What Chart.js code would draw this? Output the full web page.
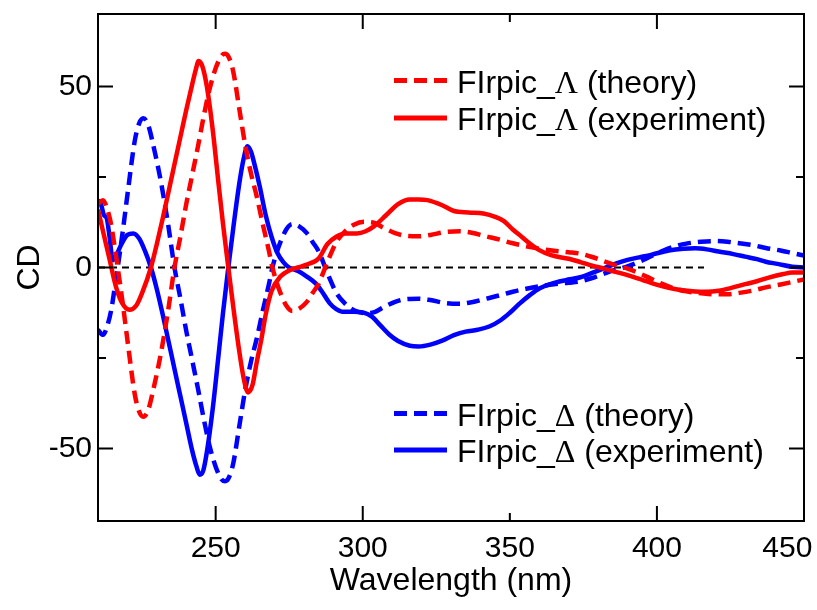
<!DOCTYPE html>
<html>
<head>
<meta charset="utf-8">
<script src="https://cdn.jsdelivr.net/npm/chart.js@4.4.1/dist/chart.umd.min.js"></script>
<style>
  html, body { margin: 0; padding: 0; background: #fff; }
  canvas { display: block; }
</style>
</head>
<body>
<canvas id="cd_chart" width="817" height="610"></canvas>
<script>
// ---- Data (wavelength in nm, CD in arbitrary units) ----

// theory curves (both enantiomers share the same wavelength grid)
const wlTheory = [210, 211.7, 213, 214.5, 215.6, 216.7, 218.5, 220.2, 222.5, 224, 225.4, 227, 229, 231.5, 234, 236,
  238, 240, 242, 244, 246, 248, 250, 252, 253.2, 254.5, 256, 258, 260, 262, 264, 266, 268, 269.3, 270.5, 272, 274,
  276, 278.5, 281, 283, 285, 287, 289, 291, 294, 297, 300.5, 304, 307, 311, 315, 319, 323, 328, 333, 337, 342, 347,
  351, 356, 360, 365, 370, 374, 378, 382, 386, 390, 394, 398, 402, 406, 410, 415, 420, 424, 428, 433, 437, 442, 446, 450];

const cdLambdaTheory = [17.5, 18.6, 16.5, 11.7, 6, 0, -10.5, -21.3, -35, -39.8, -41.2, -39.5, -33, -23.2, -11, 0,
  8.5, 17.5, 25.5, 33.5, 42, 49.5, 55, 58.5, 59, 58, 54, 44, 34, 26, 19.5, 12, 5, 0, -3.5, -7, -10.5,
  -12, -11.3, -9.5, -7, -4.5, -0.5, 3.5, 7, 10, 11.8, 12.6, 12.3, 11, 9.5, 8.7, 8.6, 9, 9.8, 10, 9.6, 8.6, 7.6,
  6.7, 5.8, 5.2, 4.6, 4.2, 3.8, 2.9, 1.7, 0.6, -0.3, -1.6, -3.1, -4.6, -5.8, -6.6, -7.1, -7.4, -7.4, -7, -6.3, -5.5, -4.7, -4, -3.3];

const cdDeltaTheory = [-17.2, -18.6, -16.5, -11.7, -6, 0, 10.5, 21.3, 35, 39.8, 41.2, 39.5, 33, 23.2, 11, 0,
  -8.5, -17.5, -25.5, -33.5, -42, -49.5, -55, -58.5, -59, -58, -54, -44, -34, -26, -19.5, -12, -5, 0, 3.5, 7, 10.5,
  12, 11.3, 9.5, 7, 4.5, 0.5, -3.5, -7, -10, -11.8, -12.6, -12.3, -11, -9.5, -8.7, -8.6, -9, -9.8, -10, -9.6, -8.6, -7.6,
  -6.7, -5.8, -5.2, -4.6, -4.2, -3.8, -2.9, -1.7, -0.6, 0.3, 1.6, 3.1, 4.6, 5.8, 6.6, 7.1, 7.3, 7.1, 6.7, 6.1, 5.4, 4.7, 4.0, 3.3];

// experiment, Lambda
const wlLambdaExp = [210, 212, 214, 216, 218, 220.7, 223, 225, 228, 230, 232, 234, 236, 238, 240, 242, 243.2, 244.2,
  245.5, 247, 249, 251, 252.5, 254.3, 256, 258, 259.5, 261, 262.5, 264, 265.5, 267, 269, 272, 275, 278, 281, 285,
  288, 291, 294, 298, 301, 304, 308, 312, 316, 319, 322, 327, 331, 336, 341, 345, 348, 351, 354, 357, 360, 364,
  370, 374, 378, 382, 386, 390, 395, 399, 404, 408, 413, 417, 421, 425, 430, 434, 438, 443, 446, 450];

const cdLambdaExp = [16, 9, 2, -5, -9.5, -11.7, -10.5, -7, 0, 6.5, 13.5, 21, 28.5, 36, 43.5, 50.5, 54.5, 57,
  55.5, 50, 38, 23, 12, 0, -11, -23, -30.5, -34.5, -32.5, -26, -20, -13, -6.5, -2.5, -0.8, 0, 0.8, 2.5,
  6.5, 8.5, 9.4, 9.4, 10, 11.5, 14.5, 17.5, 18.8, 18.8, 18.6, 17.2, 15.6, 15.2, 14.9, 14, 12.8, 10.5, 8.5, 6.5, 4.8, 3.4,
  2.4, 1.5, 0.5, -0.3, -1.2, -2.1, -3.4, -4.5, -5.6, -6.2, -6.6, -6.7, -6.4, -5.7, -4.6, -3.8, -2.8, -1.8, -1.4, -1.4];

// experiment, Delta
const wlDeltaExp = [210, 211, 212, 213, 214, 215, 216, 218, 220, 222, 224, 226, 228, 230, 232, 234, 236, 238, 240,
  242, 243.5, 244.6, 245.8, 247, 249, 251, 252.5, 254.3, 256, 258, 259.5, 260.8, 262, 263.5, 265, 267, 269, 271,
  273, 275, 278, 281, 284, 286, 288.8, 291, 293, 297, 300, 303, 306, 309, 312, 316, 319, 323, 327, 331, 335, 339,
  343, 347, 350, 353, 357, 360, 364, 369, 374, 378, 382, 386, 390, 394, 398, 404, 409, 413, 417, 421, 426, 430,
  434, 437, 441, 446, 450];

const cdDeltaExp = [18.6, 17.5, 14.5, 13.5, 8, 2, 3, 6.5, 9, 9.4, 8, 4.5, 0, -6, -13, -20.5, -28, -35.5, -43,
  -50.5, -55, -57.2, -56, -51, -39, -24, -12.5, 0, 11, 23, 30, 33.5, 32, 27.5, 22.3, 14.5, 8.5, 4,
  1.5, 0, -1, -2.5, -4.4, -6.5, -9.9, -11.5, -12.2, -12.2, -12.4, -13.5, -16, -18.5, -20.3, -21.6, -21.8, -21.3, -20.2, -18.7, -17.7, -17.2,
  -16.3, -14.5, -12.5, -10.2, -7.5, -5.8, -4.5, -3.5, -2.7, -1.5, -0.2, 1.1, 2.1, 2.8, 3.5, 4.7, 5.2, 5.3, 5, 4.4, 3.7, 3,
  2.3, 1.6, 1, 0.2, 0];

// dashed zero reference line
const wlZero = [210, 416];
const cdZero = [0, 0];

// axes
const xTickLabels = [250, 300, 350, 400, 450];
const xTickLong = [250, 300, 400];
const xTickShort = [350];
const yTickLabels = [-50, 0, 50];
const yTickLong = [-50, 0, 50];
const yTickShort = [-25, 25];

const seriesLabels = ['FIrpic_Λ (theory)', 'FIrpic_Λ (experiment)', 'FIrpic_Δ (theory)', 'FIrpic_Δ (experiment)'];

// ---- helpers ----
const pts = (xs, ys) => xs.map((x, i) => ({ x: x, y: ys[i] }));
const SANS = "'Liberation Sans', Arial, sans-serif";
const SERIF = "'Liberation Serif', 'Times New Roman', serif";
const RED = '#ff0000', BLUE = '#0000ff';
const DASH = [13, 7];

function curve(label, xs, ys, color, dashed) {
  return {
    label: label,
    data: pts(xs, ys),
    borderColor: color,
    borderWidth: 4.5,
    borderDash: dashed ? DASH : [],
    pointRadius: 0,
    fill: false,
    cubicInterpolationMode: 'monotone'
  };
}

// box frame + inward ticks on all four sides
const frameTicks = {
  id: 'frameTicks',
  afterDatasetsDraw(chart) {
    const { ctx, chartArea: a, scales: { x, y } } = chart;
    ctx.save();
    ctx.strokeStyle = '#000';
    ctx.lineWidth = 2;
    ctx.setLineDash([]);
    ctx.strokeRect(a.left, a.top, a.right - a.left, a.bottom - a.top);
    ctx.beginPath();
    const xt = (v, len) => {
      const px = x.getPixelForValue(v);
      ctx.moveTo(px, a.bottom); ctx.lineTo(px, a.bottom - len);
      ctx.moveTo(px, a.top); ctx.lineTo(px, a.top + len);
    };
    const yt = (v, len) => {
      const py = y.getPixelForValue(v);
      ctx.moveTo(a.left, py); ctx.lineTo(a.left + len, py);
      ctx.moveTo(a.right, py); ctx.lineTo(a.right - len, py);
    };
    xTickLong.forEach(v => xt(v, 15));
    xTickShort.forEach(v => xt(v, 8));
    yTickLong.forEach(v => yt(v, 15));
    yTickShort.forEach(v => yt(v, 8));
    ctx.stroke();
    ctx.restore();
  }
};

// two legend groups placed inside the plot
const legendRows = [
  { ds: 0, dy: 66.5 },
  { ds: 1, dy: 104 },
  { ds: 2, dy: 399.5 },
  { ds: 3, dy: 436 }
];

const splitLegend = {
  id: 'splitLegend',
  afterDraw(chart) {
    const { ctx, chartArea: a } = chart;
    ctx.save();
    legendRows.forEach(row => {
      const ds = chart.data.datasets[row.ds];
      const yy = a.top + row.dy;
      const x0 = a.left + 296, x1 = a.left + 349;
      ctx.strokeStyle = ds.borderColor;
      ctx.lineWidth = 5;
      ctx.setLineDash(ds.borderDash.length ? DASH : []);
      ctx.beginPath();
      ctx.moveTo(x0, yy); ctx.lineTo(x1, yy);
      ctx.stroke();
      ctx.setLineDash([]);
      ctx.fillStyle = '#000';
      ctx.textBaseline = 'alphabetic';
      ctx.textAlign = 'left';
      let tx = a.left + 359;
      ds.label.split(/([\u0391-\u03A9])/).forEach(part => {
        if (!part) return;
        ctx.font = (/^[\u0391-\u03A9]$/.test(part) ? '32px ' + SERIF : '32px ' + SANS);
        ctx.fillText(part, tx, yy + 12);
        tx += ctx.measureText(part).width;
      });
    });
    ctx.restore();
  }
};

const ctx = document.getElementById('cd_chart').getContext('2d');
new Chart(ctx, {
  type: 'line',
  data: {
    datasets: [
      curve(seriesLabels[0], wlTheory, cdLambdaTheory, RED, true),
      curve(seriesLabels[1], wlLambdaExp, cdLambdaExp, RED, false),
      curve(seriesLabels[2], wlTheory, cdDeltaTheory, BLUE, true),
      curve(seriesLabels[3], wlDeltaExp, cdDeltaExp, BLUE, false),
      {
        label: 'zero',
        data: pts(wlZero, cdZero),
        borderColor: '#000',
        borderWidth: 2,
        borderDash: [7, 5],
        pointRadius: 0,
        fill: false
      }
    ]
  },
  options: {
    responsive: false,
    animation: false,
    layout: { padding: { top: 14, right: 13, left: 0, bottom: 0 } },
    plugins: { legend: { display: false }, tooltip: { enabled: false } },
    scales: {
      x: {
        type: 'linear',
        min: 210, max: 450,
        afterBuildTicks: s => { s.ticks = xTickLabels.map(v => ({ value: v })); },
        afterFit: s => { s.height = 89; s.paddingLeft = 0; s.paddingRight = 0; },
        grid: { display: false, drawTicks: false },
        border: { display: false },
        ticks: {
          color: '#000', padding: 10, maxRotation: 0, font: { family: SANS, size: 30 },
          // last label sits at the frame edge; pad it so it stays on the canvas
          callback: v => (v === 450 ? '450    ' : String(v))
        },
        title: { display: true, text: 'Wavelength (nm)', color: '#000', padding: { bottom: 10 }, font: { family: SANS, size: 32 } }
      },
      y: {
        min: -70, max: 70,
        afterBuildTicks: s => { s.ticks = yTickLabels.map(v => ({ value: v })); },
        afterFit: s => { s.width = 98; s.paddingTop = 0; s.paddingBottom = 0; },
        grid: { display: false, drawTicks: false },
        border: { display: false },
        ticks: { color: '#000', padding: 6, font: { family: SANS, size: 30 } },
        title: { display: true, text: 'CD', color: '#000', padding: { top: 11 }, font: { family: SANS, size: 32 } }
      }
    }
  },
  plugins: [frameTicks, splitLegend]
});
</script>
</body>
</html>
